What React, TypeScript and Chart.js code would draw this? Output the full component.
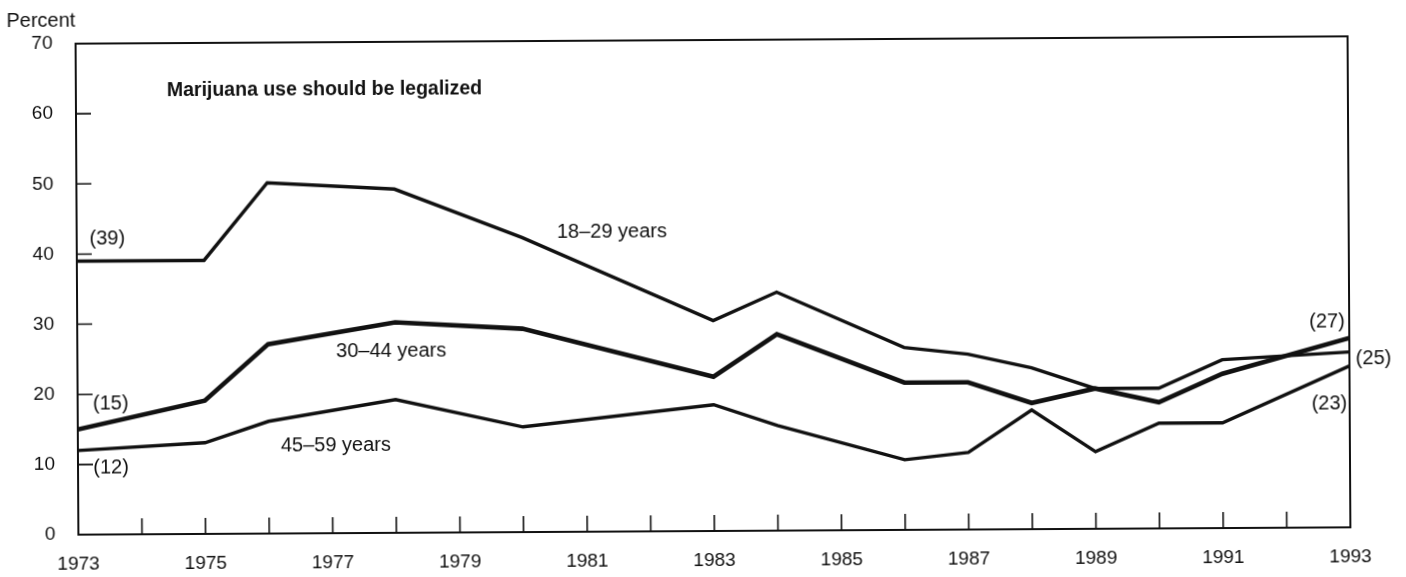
import React, { useEffect, useRef } from "react";
import { Chart, registerables } from "chart.js";

Chart.register(...registerables);

// ---- Data ----
const surveyYears = [1973, 1975, 1976, 1978, 1980, 1983, 1984, 1986, 1987, 1988, 1989, 1990, 1991, 1993];
const ages18to29 = [39, 39, 50, 49, 42, 30, 34, 26, 25, 23, 20, 20, 24, 25];
const ages30to44 = [15, 19, 27, 30, 29, 22, 28, 21, 21, 18, 20, 18, 22, 27];
const ages45to59 = [12, 13, 16, 19, 15, 18, 15, 10, 11, 17, 11, 15, 15, 23];

const xLabelYears = [1973, 1975, 1977, 1979, 1981, 1983, 1985, 1987, 1989, 1991, 1993];
const xMinorYears = [1974, 1975, 1976, 1977, 1978, 1979, 1980, 1981, 1982, 1983, 1984, 1985, 1986, 1987, 1988, 1989, 1990, 1991, 1992];
const yTickValues = [0, 10, 20, 30, 40, 50, 60, 70];
const yMinorValues = [10, 20, 30, 40, 50, 60];

const chartTitle = "Marijuana use should be legalized";
const yAxisTitle = "Percent";

// annotation texts placed in data coordinates (year, percent)
const seriesLabels = [
  { text: "18\u201329 years", x: 1980.55, y: 42.7, align: "left" },
  { text: "30\u201344 years", x: 1977.07, y: 25.9, align: "left" },
  { text: "45\u201359 years", x: 1976.19, y: 12.5, align: "left" },
];
const valueLabels = [
  { text: "(39)", x: 1973.2, y: 42.1, align: "left" },
  { text: "(15)", x: 1973.24, y: 18.6, align: "left" },
  { text: "(12)", x: 1973.24, y: 9.5, align: "left" },
  { text: "(27)", x: 1992.93, y: 29.3, align: "right" },
  { text: "(25)", x: 1993.1, y: 24.0, align: "left" },
  { text: "(23)", x: 1992.96, y: 17.6, align: "right" },
];

const FONT = "'Liberation Sans', Arial, Helvetica, sans-serif";
const INK = "#111";

const decorPlugin = {
  id: "decor",
  afterDraw(chart: any) {
    const { ctx, chartArea } = chart;
    const xs = chart.scales.x;
    const ys = chart.scales.y;
    ctx.save();
    ctx.strokeStyle = INK;
    ctx.fillStyle = INK;
    // frame
    ctx.lineWidth = 2;
    ctx.strokeRect(chartArea.left, chartArea.top, chartArea.right - chartArea.left, chartArea.bottom - chartArea.top);
    // x minor tick marks (inward)
    ctx.lineWidth = 1.6;
    ctx.beginPath();
    xMinorYears.forEach((yr) => {
      const px = xs.getPixelForValue(yr);
      ctx.moveTo(px, chartArea.bottom);
      ctx.lineTo(px, chartArea.bottom - 16);
    });
    // y tick marks (inward)
    yMinorValues.forEach((v) => {
      const py = ys.getPixelForValue(v);
      ctx.moveTo(chartArea.left, py);
      ctx.lineTo(chartArea.left + 15, py);
    });
    ctx.stroke();

    // Percent label
    ctx.font = `20px ${FONT}`;
    ctx.textAlign = "left";
    ctx.textBaseline = "middle";
    ctx.fillText(yAxisTitle, 8, 17);

    // title
    ctx.font = `bold 19.5px ${FONT}`;
    ctx.fillText(chartTitle, xs.getPixelForValue(1974.43), ys.getPixelForValue(63.2));

    ctx.font = `20px ${FONT}`;
    [...seriesLabels, ...valueLabels].forEach((l) => {
      ctx.textAlign = l.align as CanvasTextAlign;
      ctx.fillText(l.text, xs.getPixelForValue(l.x), ys.getPixelForValue(l.y));
    });
    ctx.restore();
  },
};

export default function App() {
  const ref = useRef<HTMLCanvasElement | null>(null);

  useEffect(() => {
    if (!ref.current) return;
    const toPts = (vals: number[]) => vals.map((v, i) => ({ x: surveyYears[i], y: v }));
    const chart = new Chart(ref.current, {
      type: "line",
      data: {
        datasets: [
          { label: "18\u201329 years", data: toPts(ages18to29), borderColor: INK, borderWidth: 3.4, pointRadius: 0, tension: 0, borderJoinStyle: "miter" },
          { label: "30\u201344 years", data: toPts(ages30to44), borderColor: INK, borderWidth: 4.6, pointRadius: 0, tension: 0, borderJoinStyle: "miter" },
          { label: "45\u201359 years", data: toPts(ages45to59), borderColor: INK, borderWidth: 3.4, pointRadius: 0, tension: 0, borderJoinStyle: "miter" },
        ],
      },
      options: {
        animation: false,
        responsive: false,
        devicePixelRatio: 1,
        layout: { padding: { left: 0, right: 57, top: 40, bottom: 0 } },
        plugins: { legend: { display: false }, tooltip: { enabled: false }, title: { display: false } },
        scales: {
          x: {
            type: "linear",
            min: 1973,
            max: 1993,
            afterFit: (s: any) => { s.height = 46; },
            afterBuildTicks: (s: any) => { s.ticks = xLabelYears.map((v) => ({ value: v })); },
            grid: { display: false, drawTicks: false },
            border: { display: false },
            ticks: {
              autoSkip: false,
              maxRotation: 0,
              padding: 18,
              color: INK,
              font: { family: FONT, size: 19 },
              callback: (v: any) => String(v),
            },
          },
          y: {
            min: 0,
            max: 70,
            afterFit: (s: any) => { s.width = 77; },
            afterBuildTicks: (s: any) => { s.ticks = yTickValues.map((v) => ({ value: v })); },
            grid: { display: false, drawTicks: false },
            border: { display: false },
            ticks: {
              padding: 23,
              color: INK,
              font: { family: FONT, size: 19 },
              callback: (v: any) => String(v),
            },
          },
        },
      },
      plugins: [decorPlugin],
    });
    return () => chart.destroy();
  }, []);

  return (
    <div
      style={{
        position: "absolute",
        left: 0,
        top: 0,
        width: 1406,
        height: 577,
        background: "#fff",
        transform: "rotate(-0.33deg)",
        transformOrigin: "713px 289px",
      }}
    >
      <canvas ref={ref} width={1406} height={577} style={{ display: "block" }} />
    </div>
  );
}
